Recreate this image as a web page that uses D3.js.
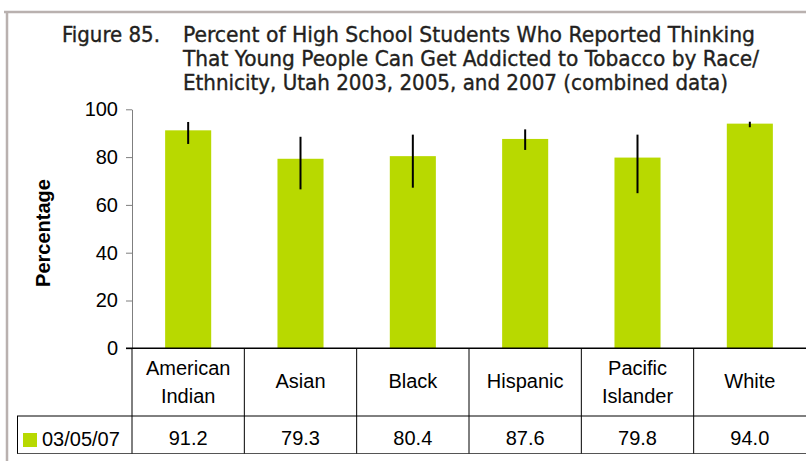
<!DOCTYPE html>
<html>
<head>
<meta charset="utf-8">
<script src="https://cdn.jsdelivr.net/npm/d3@7"></script>
<style>
  html, body { margin: 0; padding: 0; background: #fff; }
  svg { display: block; }
</style>
</head>
<body>
<svg id="chart" width="806" height="461"></svg>
<script>
// ---- data ----
const categories = ["American Indian", "Asian", "Black", "Hispanic", "Pacific Islander", "White"];
const categoryLines = [["American", "Indian"], ["Asian"], ["Black"], ["Hispanic"], ["Pacific", "Islander"], ["White"]];
const values = [91.2, 79.3, 80.4, 87.6, 79.8, 94.0];
const errLow = [85.5, 66.5, 67.2, 83.0, 64.9, 92.5];
const errHigh = [94.7, 88.5, 89.4, 91.6, 89.4, 94.8];
const yTicks = [0, 20, 40, 60, 80, 100];
const seriesName = "03/05/07";
const titleLabel = "Figure 85.";
const titleLines = [
  "Percent of High School Students Who Reported Thinking",
  "That Young People Can Get Addicted to Tobacco by Race/",
  "Ethnicity, Utah 2003, 2005, and 2007 (combined data)"
];
const yLabel = "Percentage";

// ---- layout ----
const svg = d3.select("#chart");
const barColor = "#b8d900";
const frameColor = "#b9b1af";
const axisFont = "'Liberation Sans', Arial, sans-serif";
const titleFont = "'DejaVu Sans Condensed', 'Open Sans', sans-serif";

const x0 = 132, x1 = 806;
const y = d3.scaleLinear().domain([0, 100]).range([348.3, 109.3]);
const x = d3.scaleBand().domain(categories).range([x0, x1]).paddingInner(0.59).paddingOuter(0.295);
const step = x.step();
const rowTop = y(0), rowMid = 416, rowBot = 453.5;

// frame
svg.append("line").attr("x1", 4).attr("x2", 806).attr("y1", 12).attr("y2", 12)
  .attr("stroke", frameColor).attr("stroke-width", 2.5);
svg.append("line").attr("x1", 7).attr("x2", 7).attr("y1", 11).attr("y2", 461)
  .attr("stroke", frameColor).attr("stroke-width", 2.5);

// title
const titleWidths = [572, 576, 545];
const titleBase = [41.5, 66, 90.3];
const titleG = svg.append("g").attr("font-family", titleFont).attr("font-size", 21.5)
  .attr("fill", "#231f20").attr("stroke", "#231f20").attr("stroke-width", 0.35);
titleG.append("text").attr("x", 62).attr("y", titleBase[0])
  .attr("textLength", 98).attr("lengthAdjust", "spacingAndGlyphs")
  .text(titleLabel);
titleLines.forEach((t, i) => {
  titleG.append("text").attr("x", 183).attr("y", titleBase[i])
    .attr("textLength", titleWidths[i]).attr("lengthAdjust", "spacingAndGlyphs")
    .text(t);
});

// bars
svg.append("g").selectAll("rect").data(categories).join("rect")
  .attr("x", d => x(d)).attr("width", x.bandwidth())
  .attr("y", (d, i) => y(values[i])).attr("height", (d, i) => y(0) - y(values[i]))
  .attr("fill", barColor);

// error bars
svg.append("g").selectAll("line").data(categories).join("line")
  .attr("x1", d => x(d) + x.bandwidth() / 2).attr("x2", d => x(d) + x.bandwidth() / 2)
  .attr("y1", (d, i) => y(errHigh[i])).attr("y2", (d, i) => y(errLow[i]))
  .attr("stroke", "#000").attr("stroke-width", 2);

// y axis
const yAxis = svg.append("g").attr("transform", `translate(${x0},0)`)
  .call(d3.axisLeft(y).tickValues(yTicks).tickSize(6).tickPadding(8).tickSizeOuter(0));
yAxis.select(".domain").attr("stroke", "#7f7f7f");
yAxis.selectAll(".tick line").attr("stroke", "#7f7f7f");
yAxis.selectAll(".tick text").attr("font-family", axisFont).attr("font-size", 20).attr("fill", "#000");

svg.append("text").attr("transform", "translate(50,233) rotate(-90)")
  .attr("text-anchor", "middle").attr("font-family", axisFont).attr("font-size", 20)
  .attr("font-weight", "bold").attr("fill", "#000").text(yLabel);

// table grid
const grid = svg.append("g").attr("stroke", "#000").attr("stroke-width", 1);
grid.append("line").attr("x1", x0 - 6).attr("x2", x1).attr("y1", rowTop).attr("y2", rowTop).attr("stroke-width", 1.5);
grid.append("line").attr("x1", 17).attr("x2", x1).attr("y1", rowMid).attr("y2", rowMid);
grid.append("line").attr("x1", 17).attr("x2", x1).attr("y1", rowBot).attr("y2", rowBot).attr("stroke", "#555");
grid.append("line").attr("x1", 17.5).attr("x2", 17.5).attr("y1", rowMid).attr("y2", rowBot);
grid.selectAll("line.sep").data(categories).join("line").attr("class", "sep")
  .attr("x1", d => x(d) - x.paddingOuter() * step).attr("x2", d => x(d) - x.paddingOuter() * step)
  .attr("y1", rowTop).attr("y2", rowBot);

// category labels
const catG = svg.append("g").attr("font-family", axisFont).attr("font-size", 20).attr("fill", "#000").attr("text-anchor", "middle");
categories.forEach((c, i) => {
  const cx = x(c) + x.bandwidth() / 2;
  const lines = categoryLines[i];
  const base = lines.length === 1 ? [388] : [375, 403];
  lines.forEach((l, j) => {
    catG.append("text").attr("x", cx).attr("y", base[j]).text(l);
  });
  catG.append("text").attr("x", cx).attr("y", 445).text(values[i].toFixed(1));
});

// legend
svg.append("rect").attr("x", 23).attr("y", 433).attr("width", 14).attr("height", 14).attr("fill", barColor);
svg.append("text").attr("x", 42).attr("y", 446).attr("font-family", axisFont).attr("font-size", 20)
  .attr("fill", "#000").text(seriesName);
</script>
</body>
</html>
